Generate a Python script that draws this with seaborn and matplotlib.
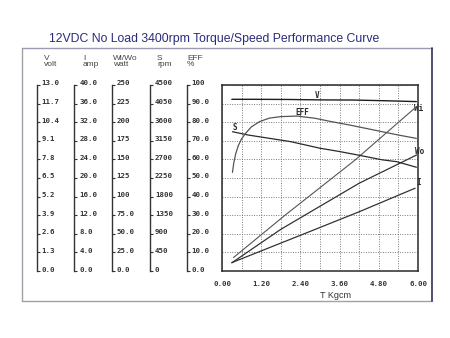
import matplotlib
matplotlib.use("Agg")
import matplotlib.pyplot as plt
import seaborn as sns
import numpy as np
import pandas as pd
from matplotlib.transforms import ScaledTranslation
from matplotlib.lines import Line2D

sns.set_style("white")
plt.rcParams['font.family'] = ['Liberation Sans', 'DejaVu Sans']

# ---------------- data ----------------
title = "12VDC No Load 3400rpm Torque/Speed Performance Curve"

torque_v = [0.30, 1.0, 2.0, 3.0, 4.0, 5.0, 5.95]
volt = [12.00, 12.00, 11.99, 11.96, 11.95, 11.90, 11.84]

torque_eff = [0.32, 0.36, 0.42, 0.50, 0.60, 0.72, 0.90, 1.15, 1.45, 1.80, 2.30, 2.85, 3.35, 3.90, 4.40, 4.90, 5.40, 5.95]
eff = [53.0, 58.0, 63.0, 67.5, 71.0, 74.0, 77.5, 80.3, 82.2, 83.0, 83.3, 82.1, 80.3, 78.5, 76.7, 74.9, 73.1, 71.3]

torque_s = [0.32, 0.80, 2.10, 3.00, 3.60, 4.20, 4.90, 5.35, 5.95]
speed = [3370, 3290, 3130, 2970, 2890, 2800, 2690, 2645, 2510]

torque_wi = [0.35, 1.93, 4.07, 5.93]
watt_in = [18, 75, 149, 220]

torque_wo = [0.30, 1.80, 4.20, 5.96]
watt_out = [11, 56, 118, 156]

torque_i = [0.30, 2.80, 4.22, 5.91]
amp = [1.8, 8.8, 12.8, 17.8]

x_ticks = [0.0, 1.2, 2.4, 3.6, 4.8, 6.0]
x_tick_labels = ["0.00", "1.20", "2.40", "3.60", "4.80", "6.00"]

v_labels = ["13.0", "11.7", "10.4", "9.1", "7.8", "6.5", "5.2", "3.9", "2.6", "1.3", "0.0"]
i_labels = ["40.0", "36.0", "32.0", "28.0", "24.0", "20.0", "16.0", "12.0", "8.0", "4.0", "0.0"]
w_labels = ["250", "225", "200", "175", "150", "125", "100", "75.0", "50.0", "25.0", "0.0"]
s_labels = ["4500", "4050", "3600", "3150", "2700", "2250", "1800", "1350", "900", "450", "0"]
e_labels = ["100", "90.0", "80.0", "70.0", "60.0", "50.0", "40.0", "30.0", "20.0", "10.0", "0.0"]

headers = [("V", "volt"), ("I", "amp"), ("Wi/Wo", "watt"), ("S", "rpm"), ("EFF", "%")]

# ---------------- figure ----------------
W, H = 450, 338
fig = plt.figure(figsize=(4.5, 3.38), dpi=100)
fig.patch.set_facecolor("white")


def fr(x0, y0, x1, y1):
    return [x0 / W, 1 - y1 / H, (x1 - x0) / W, (y1 - y0) / H]


mono = dict(family="DejaVu Sans Mono", fontsize=5.3, fontweight="bold", color="#333333")

# outer frame
def fline(x0, y0, x1, y1, color, lw):
    fig.add_artist(Line2D([x0 / W, x1 / W], [1 - y0 / H, 1 - y1 / H],
                          transform=fig.transFigure, color=color, lw=lw))

fline(22, 48, 432, 48, "#9a9ab0", 1.0)
fline(22, 48, 22, 301, "#a0a0a8", 1.0)
fline(22, 301, 432, 301, "#a0a0a8", 1.0)
fline(432, 48, 432, 301, "#30305a", 1.2)

# title
fig.text(214 / W, 1 - 39 / H, title, ha="center", va="center",
         fontsize=8.8, color="#2b2b7b")

# main plot axes
ax = fig.add_axes(fr(222, 85, 418, 271))
ax.set_facecolor("none")
ax.set_xlim(0, 6)
ax.set_ylim(0, 13)
ax.set_xticks(x_ticks)
ax.set_xticklabels(x_tick_labels, **mono)
ax.set_xticks(np.arange(0, 6.01, 0.6), minor=True)
ax.set_yticks([float(s) for s in v_labels])
ax.tick_params(axis="both", which="both", length=0)
ax.tick_params(axis="y", labelleft=False)
ax.tick_params(axis="x", pad=7)
ax.grid(True, which="both", ls=(0, (1, 1.5)), color="#7a7a7a", lw=0.7)
for sp in ax.spines.values():
    sp.set_color("#2a2a2a")
    sp.set_linewidth(1.1)

line_kw = dict(estimator=None, sort=False, legend=False)
sns.lineplot(x=torque_v, y=volt, ax=ax, color="#1e1e1e", lw=1.0, **line_kw)


def twin(top):
    t = ax.twinx()
    t.set_ylim(0, top)
    t.axis("off")
    return t


ax_i = twin(40)
ax_w = twin(250)
ax_s = twin(4500)
ax_e = twin(100)
sns.lineplot(x=torque_eff, y=eff, ax=ax_e, color="#555555", lw=0.9, **line_kw)
sns.lineplot(x=torque_s, y=speed, ax=ax_s, color="#2a2a2a", lw=0.9, **line_kw)
sns.lineplot(x=torque_wi, y=watt_in, ax=ax_w, color="#555555", lw=0.8, **line_kw)
sns.lineplot(x=torque_wo, y=watt_out, ax=ax_w, color="#333333", lw=0.9, **line_kw)
sns.lineplot(x=torque_i, y=amp, ax=ax_i, color="#333333", lw=0.9, **line_kw)

for a in (ax_i, ax_w, ax_s, ax_e):
    a.set_xlim(0, 6)

# curve labels
lab = dict(family="DejaVu Sans Mono", fontsize=5.5, fontweight="bold",
           color="#2a2a2a", transform=ax.transAxes, va="center")
ax.text(0.483, 0.946, "V", ha="center", **lab)
ax.text(0.410, 0.851, "EFF", ha="center", **lab)
ax.text(0.066, 0.773, "S", ha="center", **lab)
ax.text(0.982, 0.876, "Wi", ha="left", **lab)
ax.text(0.985, 0.645, "Wo", ha="left", **lab)
ax.text(0.992, 0.475, "I", ha="left", **lab)

# x label
fig.text(335 / W, 1 - 295 / H, "T Kgcm", ha="center", va="center",
         fontsize=6.5, color="#333333")

# left scale axes
scale_x = [36.7, 74.3, 111.7, 150.0, 186.7]
scale_labels = [v_labels, i_labels, w_labels, s_labels, e_labels]
header_x = [44, 83, 113, 157, 187]
shift = ScaledTranslation(0, 0.02, fig.dpi_scale_trans)
for xp, labels, hx, (h1, h2) in zip(scale_x, scale_labels, header_x, headers):
    vals = [float(s) for s in labels]
    sa = fig.add_axes(fr(xp - 0.5, 85, xp, 271))
    sa.set_facecolor("none")
    sa.set_ylim(0, max(vals))
    sa.set_xticks([])
    for k in ("left", "top", "bottom"):
        sa.spines[k].set_visible(False)
    sa.spines["right"].set_color("#333333")
    sa.spines["right"].set_linewidth(1.0)
    sa.yaxis.tick_right()
    sa.set_yticks(vals)
    sa.set_yticklabels(labels, **mono)
    sa.tick_params(axis="y", direction="out", length=2.5, width=0.8, pad=1,
                   color="#333333")
    for t in sa.get_yticklabels():
        t.set_transform(t.get_transform() + shift)
    fig.text(hx / W, 1 - 58 / H, h1, ha="left", va="center", fontsize=6, color="#444444")
    fig.text(hx / W, 1 - 65 / H, h2, ha="left", va="center", fontsize=6, color="#444444")

fig.savefig("out.png", dpi=100, facecolor="white")
